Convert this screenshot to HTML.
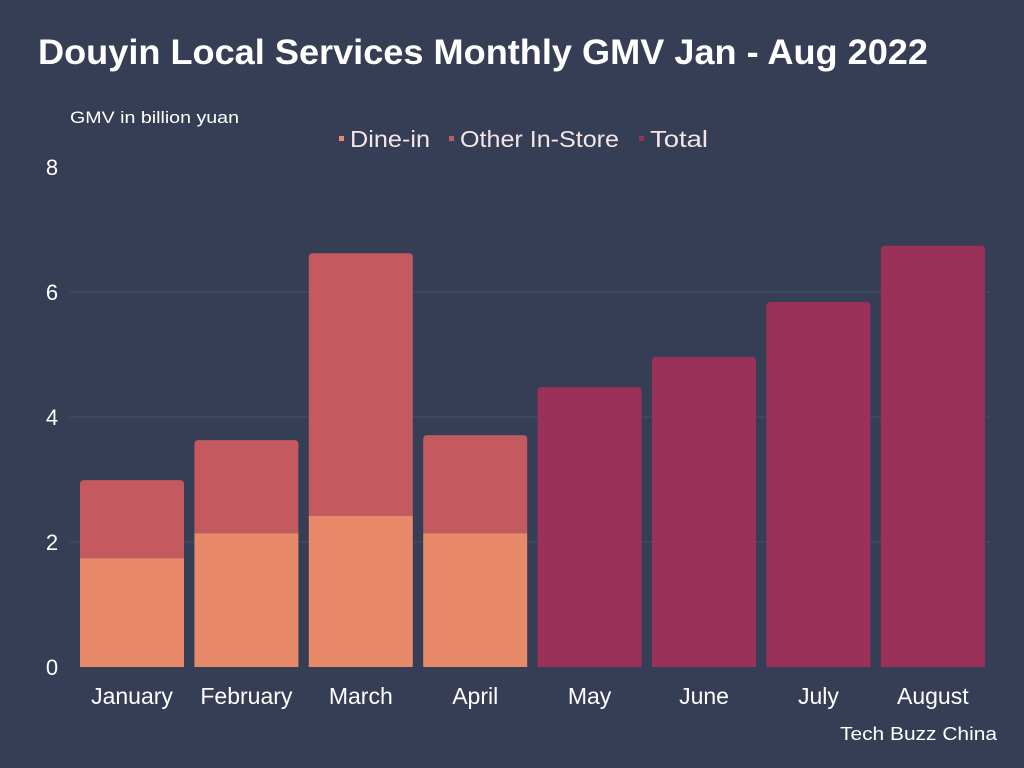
<!DOCTYPE html>
<html><head><meta charset="utf-8"><style>
body{margin:0;background:#353e55;font-family:"Liberation Sans",sans-serif;}
svg{display:block}
</style></head><body>
<svg width="1024" height="768">
<rect width="1024" height="768" fill="#353e55"/>
<text x="38" y="64" fill="#fff" font-size="35" font-weight="bold" textLength="890" lengthAdjust="spacingAndGlyphs">Douyin Local Services Monthly GMV Jan - Aug 2022</text>
<text x="70" y="123" fill="#fff" font-size="17" textLength="169" lengthAdjust="spacingAndGlyphs">GMV in billion yuan</text>
<g font-size="23" fill="#f4e6e6">
<g><rect x="339" y="136" width="5" height="5" fill="#e8896a"/><text x="350" y="147" textLength="80" lengthAdjust="spacingAndGlyphs">Dine-in</text></g>
<g><rect x="449" y="136" width="5" height="5" fill="#c45a5f"/><text x="460" y="147" textLength="159" lengthAdjust="spacingAndGlyphs">Other In-Store</text></g>
<g><rect x="639" y="136" width="5" height="5" fill="#9a3159"/><text x="650" y="147" textLength="58" lengthAdjust="spacingAndGlyphs">Total</text></g>
</g>
<g id="grid"></g><g id="bars"></g><g id="labels"></g>
<text x="997" y="740" fill="#fff" font-size="18" text-anchor="end" textLength="157" lengthAdjust="spacingAndGlyphs">Tech Buzz China</text>
</svg>
<script>
const categories=["January","February","March","April","May","June","July","August"];
const dineIn=[1.74,2.14,2.42,2.14,null,null,null,null];
const otherInStore=[1.25,1.49,4.2,1.57,null,null,null,null];
const total=[null,null,null,null,4.48,4.96,5.84,6.74];
const yTicks=[0,2,4,6,8];
const NS="http://www.w3.org/2000/svg";
const y=v=>667-v*62.5;
const x=i=>80+i*114.4;
const bw=104;
function mk(tag,attrs,parent){const e=document.createElementNS(NS,tag);for(const k in attrs)e.setAttribute(k,attrs[k]);parent.appendChild(e);return e;}
function topRounded(x0,y0,w,h,r){return `M${x0},${y0+h}V${y0+r}Q${x0},${y0} ${x0+r},${y0}H${x0+w-r}Q${x0+w},${y0} ${x0+w},${y0+r}V${y0+h}Z`;}
const grid=document.getElementById('grid'),bars=document.getElementById('bars'),labels=document.getElementById('labels');
yTicks.forEach(t=>{
 if(t>0&&t<8){const l=mk('line',{x1:70,x2:990,y1:y(t),y2:y(t),stroke:'#45506a','stroke-width':1},grid);
 
 }
 const tx=mk('text',{x:52,y:y(t)+8,fill:'#fff','font-size':22,'text-anchor':'middle'},labels);
 tx.textContent=t;
 
 
});
categories.forEach((c,i)=>{
 const x0=x(i);
 if(dineIn[i]!=null){
  const tot=dineIn[i]+otherInStore[i];
  const o=mk('path',{d:topRounded(x0,y(tot),bw,y(dineIn[i])-y(tot),4),fill:'#c45a5f'},bars);
  
  
  const d=mk('rect',{x:x0,y:y(dineIn[i]),width:bw,height:y(0)-y(dineIn[i]),fill:'#e8896a'},bars);
  
  
 }
 if(total[i]!=null){
  const b=mk('path',{d:topRounded(x0,y(total[i]),bw,y(0)-y(total[i]),4),fill:'#9a3159'},bars);
  
  
 }
 const t=mk('text',{x:x0+bw/2,y:704,fill:'#fff','font-size':23,'text-anchor':'middle'},labels);
 t.textContent=c;
 
 
});
</script>
</body></html>
